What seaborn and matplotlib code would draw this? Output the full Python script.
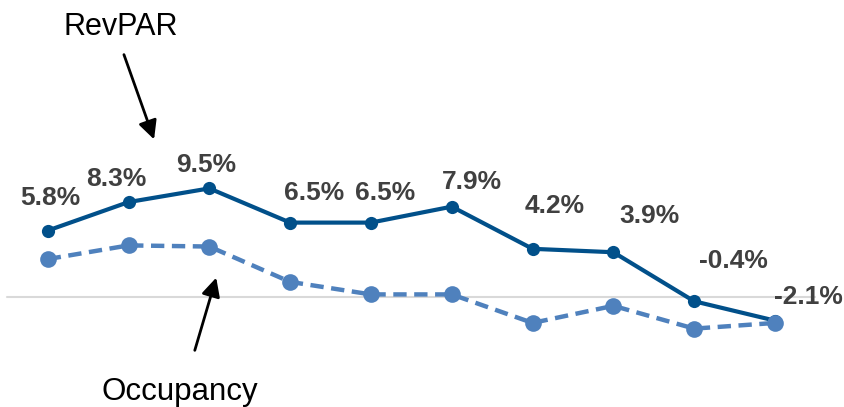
import numpy as np
import pandas as pd
import matplotlib
matplotlib.use("Agg")
import matplotlib.pyplot as plt
import seaborn as sns

# data (% change)
periods = list(range(10))
revpar = [5.8, 8.3, 9.5, 6.5, 6.5, 7.9, 4.2, 3.9, -0.4, -2.1]
occupancy = [3.3, 4.5, 4.4, 1.3, 0.2, 0.2, -2.3, -0.8, -2.8, -2.3]
revpar_labels = ["5.8%", "8.3%", "9.5%", "6.5%", "6.5%", "7.9%", "4.2%", "3.9%", "-0.4%", "-2.1%"]

# label offsets in pixels (dx, dy to baseline) - manual placement like the original
label_offsets = [(3, 26), (-12, 16), (-3, 16), (24, 23), (14, 23),
                 (20, 18), (22, 36), (36, 29), (39, 33), (33, 17)]

sns.set_style("white")
plt.rcParams['font.family'] = ['Liberation Sans', 'DejaVu Sans']

fig = plt.figure(figsize=(8.44, 4.07), dpi=100)
ax = fig.add_axes([0, 0, 1, 1])

dark_blue = "#01508A"
light_blue = "#4F81BD"

ax.axhline(0, xmin=7/844, xmax=815/844, color="#D9D9D9", lw=1.5, zorder=1)

sns.lineplot(x=periods, y=revpar, ax=ax, color=dark_blue, lw=3,
             marker="o", markersize=9.5, markeredgewidth=0, zorder=3)
sns.lineplot(x=periods, y=occupancy, ax=ax, color=light_blue, lw=3.2,
             marker="o", markersize=12, markeredgewidth=0, zorder=4,
             dashes=False, linestyle=(0, (3, 1.7)))

for x, y, lab, off in zip(periods, revpar, revpar_labels, label_offsets):
    ax.annotate(lab, (x, y), xytext=off, textcoords="offset pixels",
                ha="center", va="baseline", fontsize=19, fontweight="bold",
                color="#404040", zorder=5)

# callouts
ax.annotate("", xy=(155, 265), xycoords="figure pixels",
            xytext=(123, 355), textcoords="figure pixels",
            arrowprops=dict(arrowstyle="-|>", color="black", lw=2, mutation_scale=28))
fig.text(121, 372, "RevPAR", transform=None, ha="center", va="baseline",
         fontsize=22, color="black")
ax.annotate("", xy=(217, 132), xycoords="figure pixels",
            xytext=(194, 54), textcoords="figure pixels",
            arrowprops=dict(arrowstyle="-|>", color="black", lw=2, mutation_scale=28))
fig.text(180, 7, "Occupancy", transform=None, ha="center", va="baseline",
         fontsize=22.5, color="black")

# scale: point 0 at x=47.7px, spacing 80.8px; zero at 296.7px from top, 11.4px per %
px_x = 80.8
ax.set_xlim(-47.7 / px_x, 9 + (844 - 775) / px_x)
px_y = 11.4
ax.set_ylim(-(407 - 296.7) / px_y, 296.7 / px_y)
ax.axis("off")

fig.savefig("out.png", dpi=100)
